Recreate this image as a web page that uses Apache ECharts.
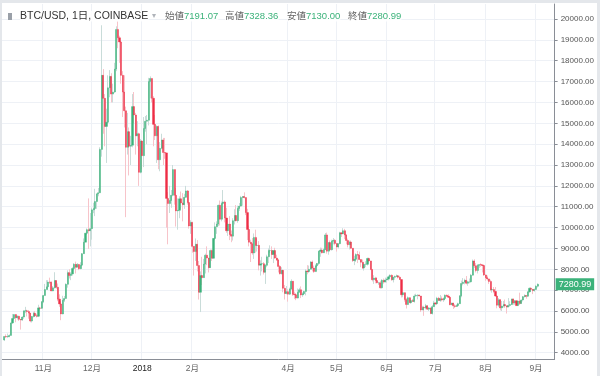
<!DOCTYPE html>
<html><head><meta charset="utf-8">
<script src="https://cdn.jsdelivr.net/npm/echarts@6/dist/echarts.min.js"></script>
<style>
html,body{margin:0;padding:0;background:#e4e7eb;width:600px;height:376px;overflow:hidden}
#c{position:absolute;left:2px;top:3px;width:595px;height:373px;background:#fff;border-radius:3px}
</style></head><body><div id="c"></div>
<script>
// Daily rows: [open, high, low, close]
const oct17 = [ // from Oct 8
[4610,4790,4560,4780],[4780,4880,4710,4760],[4760,4920,4720,4780],[4780,4880,4740,4830],[4830,5440,4820,5430],
[5430,5860,5380,5640],[5640,5840,5560,5830],[5830,5850,5460,5680],[5680,5790,5590,5750],[5750,5770,5520,5600],
[5600,5610,5110,5570],[5570,5750,5530,5710],[5710,6050,5620,6000],[6000,6200,5900,6010],[6010,6060,5740,5980],
[5980,6050,5630,5900],[5900,5910,5460,5520],[5520,5760,5450,5740],[5740,5970,5690,5890],[5890,6000,5710,5770],
[5770,5870,5690,5750],[5750,6300,5710,6150],[6150,6200,6030,6130],[6130,6470,6100,6450]];
const nov17 = [
[6450,6770,6380,6740],[6740,7300,6740,7030],[7030,7480,7030,7160],[7160,7480,7020,7390],[7390,7600,7300,7380],
[7380,7420,6950,6960],[6960,7200,6950,7110],[7110,7860,7080,7460],[7460,7470,7070,7140],[7140,7320,6470,6570],
[6570,6800,6200,6340],[6340,6470,5560,5860],[5860,6730,5840,6520],[6520,6720,6430,6600],[6600,7330,6590,7280],
[7280,7950,7120,7840],[7840,8000,7560,7700],[7700,7860,7480,7780],[7780,8100,7700,8040],[8040,8300,7960,8240],
[8240,8370,7800,8100],[8100,8300,8100,8230],[8230,8260,7960,8030],[8030,8340,8000,8200],[8200,8780,8150,8750],
[8750,9480,8740,9300],[9300,9750,9300,9730],[9730,9960,9650,9900],[9900,11400,8980,9850],[9850,10700,9100,9950]];
const dec17 = [
[9950,10950,9420,10850],[10850,11190,10690,10910],[10910,11860,10550,11250],[11250,11620,10900,11620],[11620,11900,11500,11670],
[11670,13850,11650,13750],[13750,19700,13400,17300],[17300,17600,14500,16200],[16200,16400,13900,14850],[14850,15700,13100,15050],
[15050,17300,15000,16700],[16700,17550,16250,17250],[17250,17400,16000,16400],[16400,16900,16000,16500],[16500,17900,16450,17600],
[17600,19650,17500,19500],[19500,19890,18600,19100],[19100,19200,17900,18900],[18900,18950,16900,17300],[17300,17500,15300,16500],
[16500,17300,14800,15600],[15600,15800,10500,13850],[13850,15500,13500,14600],[14600,14800,12500,13900],[13900,14400,13000,13950],
[13950,16400,13850,15800],[15800,16500,15000,15400],[15400,15500,13500,14400],[14400,15100,13900,14500],[14500,14550,12000,12650],
[12650,14250,12600,14150]];
const jan18 = [
[14150,14200,12800,13450],[13450,15300,12900,14750],[14750,15350,14600,15100],[15100,15400,14000,15150],[15150,17180,14900,17000],
[17000,17250,16200,17150],[17150,17150,16000,16200],[16200,16300,13900,14950],[14950,15400,14200,14400],[14400,14900,13100,14850],
[14850,14900,12800,13250],[13250,14100,12700,13800],[13800,14500,13750,14200],[14200,14300,13000,13600],[13600,14300,13300,13580],
[13580,13590,10000,11400],[11400,11700,9200,11150],[11150,12000,10700,11300],[11300,11800,10950,11550],[11550,13000,11500,12780],
[12780,12780,11100,11550],[11550,11900,10050,10800],[10800,11400,9900,10830],[10830,11500,10450,11380],[11380,11730,10900,11180],
[11180,11650,10300,11100],[11100,11620,10900,11450],[11450,12000,11430,11760],[11760,11800,11100,11200],[11200,11220,9950,10080],
[10080,10350,9700,10250]];
const feb18 = [
[10250,10280,8800,9100],[9100,9100,7700,8850],[8850,9480,8400,9200],[9200,9400,7900,8180],[8180,8400,6550,6900],
[6900,7900,5950,7700],[7700,8600,7250,7600],[7600,8500,7600,8250],[8250,8750,7800,8680],[8680,9100,8200,8540],
[8540,8550,7850,8080],[8080,8950,8070,8900],[8900,8950,8400,8530],[8530,9500,8520,9480],[9480,10250,9400,10040],
[10040,10300,9700,10170],[10170,11100,10070,11070],[11070,11300,10100,10400],[10400,11250,10300,11160],[11160,11800,11100,11230],
[11230,11300,10250,10460],[10460,10950,9750,9850],[9850,10450,9600,10170],[10170,10550,9400,9670],[9670,9860,9300,9590],
[9590,10450,9380,10330],[10330,10880,10150,10580],[10580,11080,10300,10330]];
const mar18 = [
[10330,11050,10230,10920],[10920,11180,10800,11030],[11030,11520,11000,11440],[11440,11500,11050,11490],[11490,11690,11400,11440],
[11440,11450,10600,10720],[10720,10900,9400,9910],[9910,10100,9100,9300],[9300,9420,8350,9230],[9230,9500,8700,8780],
[8780,9720,8500,9530],[9530,9900,8800,9140],[9140,9480,8850,9150],[9150,9350,7950,8200],[8200,8430,7700,8260],
[8260,8600,7900,8270],[8270,8350,7750,7860],[7860,8250,7300,8190],[8190,8700,8100,8600],[8600,9000,8300,8900],
[8900,9150,8780,8900],[8900,9100,8500,8710],[8710,8900,8300,8900],[8900,9030,8500,8540],[8540,8700,8400,8450],
[8450,8500,7850,8140],[8140,8200,7750,7790],[7790,8100,7750,7950],[7950,7980,6900,7090],[7090,7250,6550,6840],
[6840,7200,6800,6930]];
const apr18 = [
[6930,7050,6450,6810],[6810,7120,6770,7060],[7060,7520,7010,7430],[7430,7440,6720,6800],[6800,6930,6580,6780],
[6780,6860,6520,6620],[6620,7080,6610,6900],[6900,7110,6880,7020],[7020,7180,6620,6770],[6770,6900,6680,6830],
[6830,6970,6820,6940],[6940,8000,6750,7920],[7920,8200,7760,7890],[7890,8180,7840,8000],[8000,8400,8000,8350],
[8350,8420,7900,8060],[8060,8180,7830,7890],[7890,8240,7880,8170],[8170,8300,8100,8280],[8280,8900,8200,8860],
[8860,9040,8600,8920],[8920,9030,8760,8790],[8790,9000,8780,8940],[8940,9740,8930,9650],[9650,9760,8750,8870],
[8870,9300,8700,9280],[9280,9380,8900,8940],[8940,9420,8900,9350],[9350,9500,9200,9390],[9390,9450,9150,9240]];
const may18 = [
[9240,9250,8850,9070],[9070,9250,9000,9230],[9230,9800,9200,9750],[9750,9770,9550,9700],[9700,9970,9700,9850],
[9850,9940,9450,9650],[9650,9680,9200,9380],[9380,9470,9050,9180],[9180,9370,8950,9310],[9310,9380,8980,9010],
[9010,9020,8350,8420],[8420,8650,8200,8480],[8480,8770,8350,8710],[8710,8880,8300,8680],[8680,8850,8440,8470],
[8470,8480,8100,8340],[8340,8470,8020,8060],[8060,8270,7940,8240],[8240,8390,8100,8240],[8240,8560,8180,8520],
[8520,8560,8330,8400],[8400,8410,7960,7990],[7990,8020,7420,7500],[7500,7720,7300,7580],[7580,7640,7330,7460],
[7460,7620,7330,7350],[7350,7400,7250,7350],[7350,7450,7080,7110],[7110,7530,7080,7470],[7470,7560,7310,7390],
[7390,7600,7370,7490]];
const jun18 = [
[7490,7600,7360,7530],[7530,7700,7460,7640],[7640,7760,7600,7710],[7710,7760,7450,7500],[7500,7640,7370,7620],
[7620,7700,7500,7660],[7660,7750,7640,7690],[7690,7700,7560,7620],[7620,7690,7490,7510],[7510,7520,6650,6780],
[6780,6890,6660,6880],[6880,6890,6450,6550],[6550,6620,6120,6310],[6310,6700,6300,6640],[6640,6650,6400,6400],
[6400,6550,6350,6500],[6500,6580,6450,6460],[6460,6800,6400,6720],[6720,6830,6680,6750],[6750,6800,6560,6760],
[6760,6790,6700,6720],[6720,6730,5950,6050],[6050,6250,6040,6170],[6170,6250,5770,6150],[6150,6340,6080,6250],
[6250,6290,6050,6090],[6090,6190,6000,6150],[6150,6170,5850,5880],[5880,6290,5830,6210],[6210,6490,6200,6390]];
const jul18 = [
[6390,6400,6280,6350],[6350,6680,6290,6610],[6610,6680,6480,6510],[6510,6770,6440,6590],[6590,6700,6470,6530],
[6530,6650,6440,6600],[6600,6800,6520,6760],[6760,6790,6680,6710],[6710,6800,6620,6660],[6660,6680,6280,6300],
[6300,6400,6280,6380],[6380,6400,6100,6250],[6250,6330,6140,6220],[6220,6320,6200,6260],[6260,6400,6240,6350],
[6350,6750,6340,6730],[6730,7460,6660,7320],[7320,7580,7230,7380],[7380,7550,7280,7470],[7470,7680,7280,7330],
[7330,7450,7210,7400],[7400,7560,7330,7400],[7400,7780,7380,7720],[7720,8470,7700,8400],[8400,8480,8060,8170],
[8170,8300,7850,7940],[7940,8250,7800,8190],[8190,8230,8070,8230],[8230,8290,8120,8210],[8210,8240,7850,8180],
[8180,8180,7680,7730]];
const aug18 = [
[7730,7750,7450,7600],[7600,7700,7460,7540],[7540,7550,7300,7420],[7420,7500,6950,7010],[7010,7090,6880,7030],
[7030,7150,6850,6940],[6940,7150,6680,6720],[6720,6730,6130,6280],[6280,6620,6200,6540],[6540,6570,6030,6150],
[6150,6480,6000,6240],[6240,6480,6170,6310],[6310,6550,6150,6250],[6250,6260,5880,6190],[6190,6620,6180,6270],
[6270,6470,6200,6310],[6310,6590,6290,6580],[6580,6600,6300,6390],[6390,6530,6300,6490],[6490,6530,6250,6260],
[6260,6490,6250,6480],[6480,6880,6290,6360],[6360,6550,6350,6530],[6530,6720,6460,6690],[6690,6800,6650,6740],
[6740,6750,6590,6710],[6710,6940,6670,6920],[6920,7130,6880,7090],[7090,7140,6930,7040],[7040,7060,6810,6980],
[6980,7080,6930,7030]];
const sep18 = [
[7030,7250,7020,7191.07],[7191.07,7328.36,7130.00,7280.99]];

const monthBlocks = [
  ['2017-10-08', oct17], ['2017-11-01', nov17], ['2017-12-01', dec17], ['2018-01-01', jan18],
  ['2018-02-01', feb18], ['2018-03-01', mar18], ['2018-04-01', apr18], ['2018-05-01', may18],
  ['2018-06-01', jun18], ['2018-07-01', jul18], ['2018-08-01', aug18], ['2018-09-01', sep18]];

const tickDates  = ['2017-11-01','2017-12-01','2018-01-01','2018-02-01','2018-04-01','2018-05-01','2018-06-01','2018-07-01','2018-08-01','2018-09-01'];
const tickLabels = ['11月','12月','2018','2月','4月','5月','6月','7月','8月','9月'];
const yTicks = [4000,5000,6000,7000,8000,9000,10000,11000,12000,13000,14000,15000,16000,17000,18000,19000,20000];

const last = {open:'7191.07', high:'7328.36', low:'7130.00', close:'7280.99'};
const ohlcNames = ['始値','高値','安値','終値'];

function fmt(d){return d.getUTCFullYear()+'-'+String(d.getUTCMonth()+1).padStart(2,'0')+'-'+String(d.getUTCDate()).padStart(2,'0');}
function parse(s){const p=s.split('-');return Date.UTC(+p[0],+p[1]-1,+p[2]);}
const DAY=86400000;
const cats=[];
for(let t=parse('2017-10-07'); t<=parse('2018-09-12'); t+=DAY) cats.push(fmt(new Date(t)));
const rowMap={};
monthBlocks.forEach(([start,rows])=>{const t0=parse(start);rows.forEach((r,i)=>{rowMap[fmt(new Date(t0+i*DAY))]=r;});});
const wickData = cats.map(c=>{const r=rowMap[c];return r?[r[0],r[3],r[2],r[1]]:'-';});
const bodyData = cats.map(c=>{const r=rowMap[c];return r?[r[0],r[3],Math.min(r[0],r[3]),Math.max(r[0],r[3])]:'-';});
const tickSet = {}; tickDates.forEach((d,i)=>tickSet[d]=tickLabels[i]);
const isTick=(i,v)=>tickSet[v]!==undefined;

const UP='#3bb27a', DOWN='#ee2d45';
const FONT="'Liberation Sans','Noto Sans CJK JP',sans-serif";
const chart=echarts.init(document.getElementById('c'),null,{renderer:'canvas'});
const vals=[last.open,last.high,last.low,last.close];
const headerX=[163,223,285,346];
const ohlcGraphics = ohlcNames.map((n,i)=>({type:'text',left:headerX[i],top:9,z:100,
  style:{rich:{l:{fill:'#666',font:"9.5px "+FONT},v:{fill:UP,font:"9.5px "+FONT}},backgroundColor:'rgba(255,255,255,0.85)',
  text:'{l|'+n+'}{v|'+vals[i]+'}'}}));
chart.setOption({
  animation:false,
  backgroundColor:'#fff',
  textStyle:{fontFamily:FONT},
  grid:{left:0,right:36,top:1,bottom:17},
  xAxis:{type:'category',data:cats,boundaryGap:true,
    axisLine:{lineStyle:{color:'#8a8e96'}},
    axisTick:{interval:isTick,length:3,lineStyle:{color:'#8a8e96'}},
    axisLabel:{interval:isTick,formatter:v=>tickSet[v]==='2018'?'{b|2018}':tickSet[v],color:'#666',fontSize:8.5,margin:5,fontFamily:FONT,
      rich:{b:{color:'#222',fontSize:8.5,fontFamily:FONT}}},
    splitLine:{show:true,interval:isTick,lineStyle:{color:'#eef1f6'}}},
  yAxis:{type:'value',position:'right',min:3700,max:20720,scale:true,
    axisLine:{show:true,lineStyle:{color:'#8a8e96'}},
    axisTick:{show:true,length:3,customValues:yTicks,lineStyle:{color:'#8a8e96'}},
    axisLabel:{customValues:yTicks,formatter:v=>v.toFixed(2),color:'#555',fontSize:8,margin:6,fontFamily:FONT},
    splitLine:{show:true,lineStyle:{color:'#eef1f6'}}},
  series:[
    {type:'candlestick',name:'wick',data:wickData,barWidth:1,
      itemStyle:{color:'#c9dcd9',color0:'#f7c4ca',borderColor:'#c9dcd9',borderColor0:'#f7c4ca',borderWidth:1}},
    {type:'candlestick',name:'body',data:bodyData,barWidth:1.6,
      itemStyle:{color:UP,color0:DOWN,borderColor:UP,borderColor0:DOWN,borderWidth:0.4},
      markLine:{silent:true,symbol:'none',data:[{yAxis:7280.99}],lineStyle:{color:'rgba(0,0,0,0)',width:0,opacity:1},
        label:{show:true,position:'end',distance:1,formatter:last.close,color:'#fff',backgroundColor:UP,padding:[2,3,1,3],fontSize:9,fontFamily:FONT}}}
  ],
  graphic:[
    {type:'rect',left:6,top:10,shape:{width:4,height:7},style:{fill:'#9aa0a8'},z:100},
    {type:'text',left:18,top:8,z:100,style:{text:'BTC/USD, 1日, COINBASE',fill:'#333',font:"10.5px "+FONT,backgroundColor:'rgba(255,255,255,0.85)'}},
    {type:'text',left:150,top:9,z:100,style:{text:'▾',fill:'#b0b4ba',font:"8px "+FONT}}
  ].concat(ohlcGraphics)
});
</script></body></html>
